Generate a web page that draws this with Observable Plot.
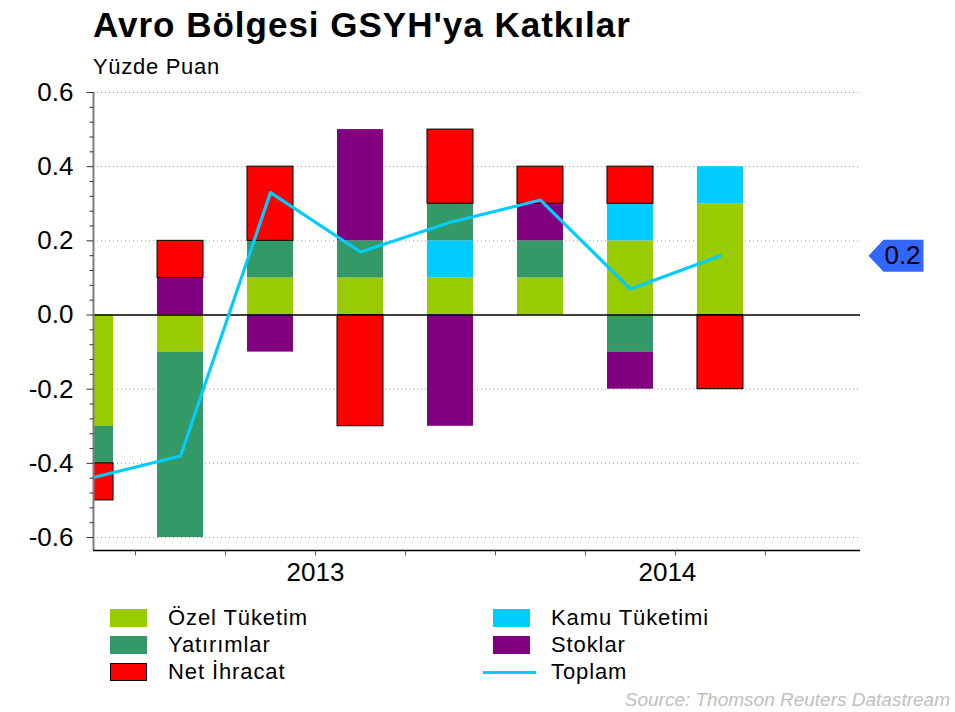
<!DOCTYPE html>
<html>
<head>
<meta charset="utf-8">
<script src="https://cdn.jsdelivr.net/npm/d3@7"></script>
<script src="https://cdn.jsdelivr.net/npm/@observablehq/plot@0.6"></script>
<style>
  body { margin: 0; background: #fff; }
  #wrap { position: relative; width: 955px; height: 712px; background: #fff; font-family: "Liberation Sans", Arial, sans-serif; color: #000; overflow: hidden; }
  .title { position: absolute; left: 93px; top: 7px; font-size: 35px; line-height: 35px; font-weight: bold; letter-spacing: 1px; white-space: nowrap; }
  .subtitle { position: absolute; left: 93px; top: 56px; font-size: 22px; line-height: 22px; letter-spacing: 0.7px; white-space: nowrap; }
  #chart { position: absolute; left: 0; top: 80px; }
  .leg { position: absolute; height: 27px; display: flex; align-items: center; font-size: 22px; letter-spacing: 0.9px; white-space: nowrap; }
  .sw { width: 37px; height: 18px; box-sizing: border-box; margin-right: 21px; }
  .ln { width: 53px; height: 3px; margin-right: 15px; margin-left: -10px; }
  .source { position: absolute; right: 5px; top: 689px; font-size: 19px; font-style: italic; color: #c0c0c0; white-space: nowrap; }
</style>
</head>
<body>
<div id="wrap">
  <div class="title">Avro Bölgesi GSYH'ya Katkılar</div>
  <div class="subtitle">Yüzde Puan</div>
  <div id="chart"></div>
  <div id="legend"></div>
  <div class="source">Source: Thomson Reuters Datastream</div>
</div>
<script>
// ---- data ----
const quarters = ["2012Q4", "2013Q1", "2013Q2", "2013Q3", "2013Q4", "2014Q1", "2014Q2", "2014Q3"];
const seriesNames = ["Özel Tüketim", "Kamu Tüketimi", "Yatırımlar", "Stoklar", "Net İhracat"];
const seriesColors = ["#99CC00", "#00CCFF", "#339966", "#800080", "#FF0000"];
const ozelTuketim   = [-0.3, -0.1, 0.1, 0.1, 0.1, 0.1, 0.2, 0.3];
const kamuTuketimi  = [0, 0, 0, 0, 0.1, 0, 0.1, 0.1];
const yatirimlar    = [-0.1, -0.5, 0.1, 0.1, 0.1, 0.1, -0.1, 0];
const stoklar       = [0, 0.1, -0.1, 0.3, -0.3, 0.1, -0.1, 0];
const netIhracat    = [-0.1, 0.1, 0.2, -0.3, 0.2, 0.1, 0.1, -0.2];
const toplam        = [-0.44, -0.38, 0.33, 0.17, 0.25, 0.31, 0.07, 0.16];
const yMajorTicks = [-0.6, -0.4, -0.2, 0, 0.2, 0.4, 0.6];
const xYearLabels = ["2013", "2014"];
const xYearAt = [2.5, 6.41];

// ---- tables ----
const seriesValues = [ozelTuketim, kamuTuketimi, yatirimlar, stoklar, netIhracat];
const rows = [];
seriesNames.forEach((name, s) => {
  seriesValues[s].forEach((v, i) => {
    if (v !== 0) rows.push({q: i, quarter: quarters[i], series: name, value: v});
  });
});
const totalRows = toplam.map((v, i) => ({q: i, quarter: quarters[i], value: v}));
const lastTotal = [totalRows[totalRows.length - 1]];
const yMinorTicks = d3.range(-15, 16).filter(k => k % 5 !== 0).map(k => k * 0.04);
const xBoundaries = quarters.map((_, i) => i + 0.5);
const xDomain = [0.033, 8.556];
const yDomain = [-0.635, 0.6];

const hTick = len => ({draw(ctx) { ctx.moveTo(-len, 0); ctx.lineTo(0, 0); }});
const vTick = len => ({draw(ctx) { ctx.moveTo(0, 0); ctx.lineTo(0, len); }});
const tagShape = {draw(ctx) {
  ctx.moveTo(-32, 0); ctx.lineTo(-17, -16); ctx.lineTo(23, -16);
  ctx.lineTo(23, 16); ctx.lineTo(-17, 16); ctx.closePath();
}};
const fmt = d => (Math.abs(d) < 1e-9 ? 0 : d).toFixed(1);

const chart = Plot.plot({
  width: 955,
  height: 520,
  marginLeft: 93,
  marginRight: 95,
  marginTop: 12,
  marginBottom: 50,
  style: {fontFamily: '"Liberation Sans", Arial, sans-serif', background: "white", color: "black", overflow: "visible"},
  x: {domain: xDomain, axis: null},
  y: {domain: yDomain, axis: null},
  color: {domain: seriesNames, range: seriesColors},
  marks: [
    Plot.ruleY(yMajorTicks.filter(d => d !== 0), {stroke: "#999", strokeDasharray: "1,3", strokeWidth: 1}),
    Plot.rectY(rows, Plot.stackY({
      x1: d => d.q - 0.5, x2: d => d.q + 0.5, y: "value", z: "series",
      fill: "series", insetLeft: 22, insetRight: 22,
      stroke: "black", strokeWidth: 1,
      strokeOpacity: d => d.series === "Net İhracat" ? 1 : 0,
      clip: true
    })),
    Plot.ruleY([0], {stroke: "black", strokeWidth: 1.3}),
    Plot.line(totalRows, {x: "q", y: "value", stroke: "#00CCFF", strokeWidth: 3.2, clip: true}),
    // axes
    Plot.ruleX([xDomain[0]], {stroke: "#808080", strokeWidth: 2}),
    Plot.ruleY([yDomain[0]], {stroke: "black", strokeWidth: 1.3}),
    Plot.dot(yMajorTicks, {y: d => d, frameAnchor: "left", symbol: hTick(7), fill: "none", stroke: "#333", strokeWidth: 1}),
    Plot.dot(yMinorTicks, {y: d => d, frameAnchor: "left", symbol: hTick(4), fill: "none", stroke: "#333", strokeWidth: 1}),
    Plot.text(yMajorTicks, {y: d => d, text: fmt, frameAnchor: "left", textAnchor: "end", dx: -20, fontSize: 26, fill: "black"}),
    Plot.dot(xBoundaries, {x: d => d, frameAnchor: "bottom", symbol: vTick(5), fill: "none", stroke: "#555", strokeWidth: 1}),
    Plot.text(xYearAt, {x: d => d, text: (d, i) => xYearLabels[i], frameAnchor: "bottom", textAnchor: "middle", dy: 30, fontSize: 26, fill: "black"}),
    // last value tag
    Plot.dot(lastTotal, {y: "value", frameAnchor: "right", dx: 40, symbol: tagShape, fill: "#3366FF", stroke: "none"}),
    Plot.text(lastTotal, {y: "value", text: d => d.value.toFixed(1), frameAnchor: "right", textAnchor: "middle", dx: 42, fontSize: 26, fill: "black"})
  ]
});
document.getElementById("chart").appendChild(chart);

// ---- legend ----
const legendItems = [
  {name: "Özel Tüketim", type: "box", color: seriesColors[0], left: 110, top: 618},
  {name: "Yatırımlar", type: "box", color: seriesColors[2], left: 110, top: 645},
  {name: "Net İhracat", type: "box", color: seriesColors[4], border: true, left: 110, top: 672},
  {name: "Kamu Tüketimi", type: "box", color: seriesColors[1], left: 493, top: 618},
  {name: "Stoklar", type: "box", color: seriesColors[3], left: 493, top: 645},
  {name: "Toplam", type: "line", color: "#00CCFF", left: 493, top: 672}
];
const legend = document.getElementById("legend");
legendItems.forEach(it => {
  const d = document.createElement("div");
  d.className = "leg";
  d.style.left = it.left + "px";
  d.style.top = (it.top - 13.5) + "px";
  const s = document.createElement("span");
  s.className = it.type === "line" ? "ln" : "sw";
  s.style.background = it.color;
  if (it.border) s.style.border = "1px solid #000";
  d.appendChild(s);
  const t = document.createElement("span");
  t.textContent = it.name;
  d.appendChild(t);
  legend.appendChild(d);
});
</script>
</body>
</html>
